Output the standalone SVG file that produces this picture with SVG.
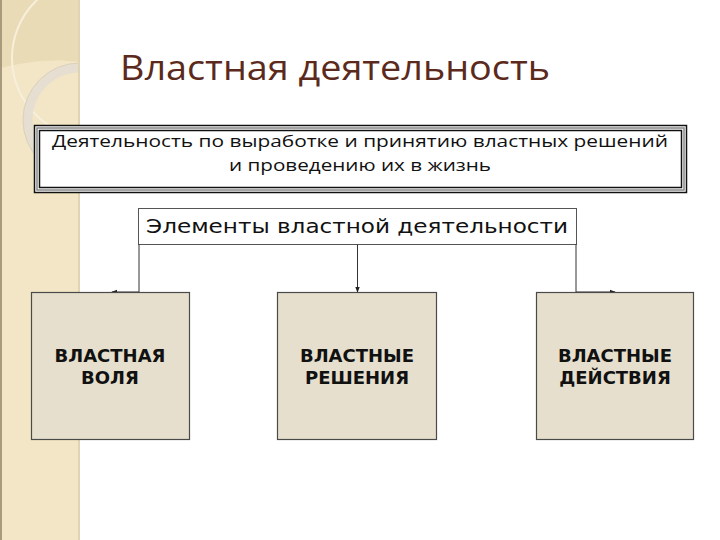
<svg xmlns="http://www.w3.org/2000/svg" width="720" height="540" viewBox="0 0 720 540">
<defs>
<style>
.title{font-family:"Open Sans","Noto Sans",sans-serif;font-size:34px;fill:#5b2a1c}
.def{font-family:"Open Sans","Noto Sans",sans-serif;font-size:17px;fill:#111}
.el{font-family:"DejaVu Sans",Verdana,sans-serif;font-size:20px;fill:#111}
.bt{font-family:"DejaVu Sans",Verdana,sans-serif;font-size:18px;font-weight:bold;fill:#111;text-anchor:middle}
.node{fill:#e6dfcd;stroke:#4a4a4a;stroke-width:1.2}
.con{fill:none;stroke:#333;stroke-width:1}
</style>
<marker id="arr" viewBox="0 0 8 8" refX="7" refY="4" markerWidth="6" markerHeight="6" orient="auto" markerUnits="userSpaceOnUse">
<path d="M0,1 L8,4 L0,7 z" fill="#222"/>
</marker>
<clipPath id="band"><rect x="0" y="0" width="80" height="540"/></clipPath>
</defs>
<rect width="720" height="540" fill="#fff"/>
<g id="band-bg" clip-path="url(#band)">
<rect x="0" y="0" width="80" height="540" fill="#f3e6c6"/>
<path d="M0,0 H80 V62 C50,58 25,62 0,68 Z" fill="#e9dbb6"/>
<circle cx="92" cy="58" r="80" fill="none" stroke="#f7efdb" stroke-width="2"/>
<circle cx="80" cy="120" r="52" fill="none" stroke="#e6ded0" stroke-width="9"/>
<circle cx="80" cy="120" r="57" fill="none" stroke="#d9cfbd" stroke-width="1"/>
<rect x="0" y="0" width="2" height="540" fill="#a89a7c"/>
<rect x="78" y="0" width="2" height="540" fill="#e0d4b4"/>
</g>
<text class="title" x="120" y="80" textLength="430" lengthAdjust="spacingAndGlyphs">Властная деятельность</text>
<g id="definition">
<rect x="34.5" y="125.5" width="652" height="67" fill="#fff" stroke="#111" stroke-width="1.5"/>
<rect x="37" y="128" width="647" height="62" fill="none" stroke="#888" stroke-width="1.5"/>
<rect x="39.5" y="130.5" width="642" height="57" fill="none" stroke="#111" stroke-width="1.5"/>
<text class="def" x="360" y="147" text-anchor="middle" textLength="616" lengthAdjust="spacingAndGlyphs">Деятельность по выработке и принятию властных решений</text>
<text class="def" x="360" y="171" text-anchor="middle" textLength="262" lengthAdjust="spacingAndGlyphs">и проведению их в жизнь</text>
</g>
<g id="elements">
<rect x="138.5" y="208.5" width="438" height="36" fill="#fff" stroke="#555" stroke-width="1"/>
<text class="el" x="146" y="233" textLength="422" lengthAdjust="spacingAndGlyphs">Элементы властной деятельности</text>
</g>
<g id="connectors">
<path class="con" d="M139,244.5 V292 H112" marker-end="url(#arr)"/>
<path class="con" d="M357.5,244.5 V292" marker-end="url(#arr)"/>
<path class="con" d="M576,244.5 V292 H615" marker-end="url(#arr)"/>
</g>
<g id="will">
<rect class="node" x="31.5" y="292.5" width="158" height="147"/>
<text class="bt" x="110" y="362">ВЛАСТНАЯ</text>
<text class="bt" x="110" y="384">ВОЛЯ</text>
</g>
<g id="decisions">
<rect class="node" x="277.5" y="292.5" width="159" height="147"/>
<text class="bt" x="357" y="362">ВЛАСТНЫЕ</text>
<text class="bt" x="357" y="384">РЕШЕНИЯ</text>
</g>
<g id="actions">
<rect class="node" x="536.5" y="292.5" width="157" height="147"/>
<text class="bt" x="615" y="362">ВЛАСТНЫЕ</text>
<text class="bt" x="615" y="384">ДЕЙСТВИЯ</text>
</g>
</svg>
